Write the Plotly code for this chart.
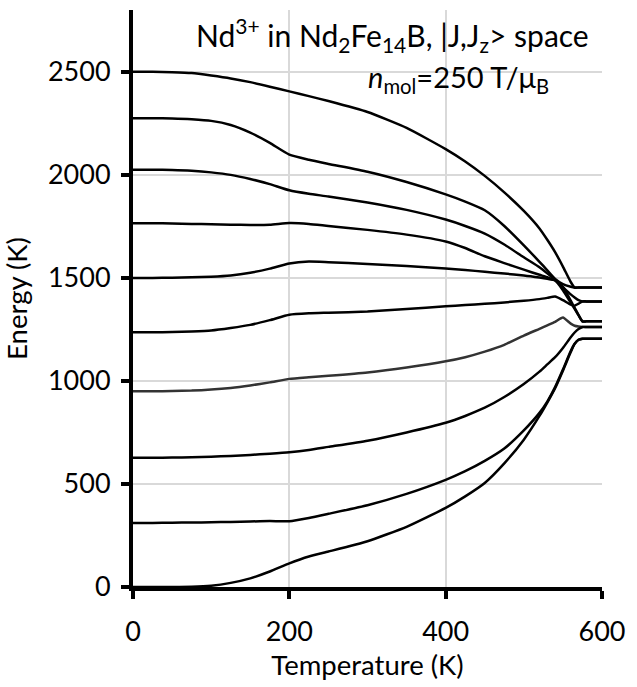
import plotly.graph_objects as go

temperature = [0, 25, 50, 75, 100, 125, 150, 175, 200, 225, 250, 300, 350, 400, 425,
               450, 475, 500, 520, 530, 540, 550, 560, 565, 570, 575, 580, 600]

level_1 = [2500, 2500, 2498, 2494, 2482, 2468, 2450, 2428, 2405, 2382, 2358, 2305, 2228, 2125, 2065,
           1995, 1915, 1825, 1740, 1685, 1625, 1555, 1480, 1453, 1453, 1453, 1453, 1453]
level_2 = [2275, 2275, 2274, 2270, 2262, 2242, 2205, 2155, 2098, 2073, 2053, 2015, 1965, 1905, 1870,
           1828, 1752, 1658, 1578, 1537, 1495, 1470, 1457, 1453, 1453, 1453, 1453, 1453]
level_3 = [2025, 2025, 2024, 2020, 2012, 2000, 1980, 1955, 1925, 1908, 1895, 1866, 1830, 1783, 1752,
           1715, 1662, 1600, 1552, 1522, 1490, 1455, 1420, 1405, 1392, 1386, 1386, 1386]
level_4 = [1765, 1765, 1764, 1762, 1760, 1758, 1757, 1758, 1766, 1762, 1752, 1733, 1710, 1677, 1645,
           1605, 1572, 1540, 1515, 1503, 1488, 1440, 1380, 1350, 1318, 1289, 1289, 1289]
level_5 = [1500, 1500, 1501, 1503, 1506, 1512, 1525, 1545, 1570, 1579, 1576, 1568, 1558, 1545, 1538,
           1530, 1521, 1512, 1502, 1496, 1488, 1455, 1390, 1355, 1320, 1289, 1289, 1289]
level_6 = [1236, 1236, 1237, 1240, 1245, 1257, 1272, 1295, 1321, 1328, 1331, 1337, 1349, 1362, 1368,
           1374, 1381, 1389, 1397, 1403, 1410, 1392, 1370, 1365, 1375, 1386, 1386, 1386]
level_7 = [950, 950, 951, 953, 958, 966, 978, 993, 1010, 1018, 1025, 1041, 1065, 1095, 1115,
           1142, 1175, 1220, 1253, 1270, 1287, 1308, 1278, 1268, 1264, 1262, 1262, 1262]
level_8 = [627, 627, 628, 630, 632, 636, 641, 647, 654, 665, 680, 710, 750, 797, 830,
           870, 922, 985, 1045, 1080, 1115, 1160, 1212, 1235, 1252, 1262, 1262, 1262]
level_9 = [311, 311, 312, 313, 314, 316, 318, 320, 319, 335, 355, 397, 452, 520, 562,
           612, 672, 760, 845, 900, 970, 1055, 1145, 1180, 1200, 1205, 1205, 1205]
level_10 = [0, 0, 0, 1, 6, 20, 42, 75, 115, 148, 172, 222, 292, 384, 440,
            505, 600, 715, 830, 895, 965, 1050, 1140, 1180, 1200, 1205, 1205, 1205]

levels = [level_1, level_2, level_3, level_4, level_5,
          level_6, level_7, level_8, level_9, level_10]
line_colors = ["#000000"] * 6 + ["#333333"] + ["#000000"] * 3

x_ticks = [0, 200, 400, 600]
y_ticks = [0, 500, 1000, 1500, 2000, 2500]

FONT = "Lato"

fig = go.Figure()
for energies, color in zip(levels, line_colors):
    fig.add_trace(go.Scatter(x=temperature, y=energies, mode="lines",
                             line=dict(color=color, width=2.5, shape="spline", smoothing=0.5),
                             showlegend=False, hoverinfo="skip"))

axis_common = dict(
    showline=True, linecolor="black", linewidth=4,
    ticks="outside", ticklen=8, tickwidth=4, tickcolor="black",
    showgrid=True, gridcolor="#d9d9d9", gridwidth=1.5,
    zeroline=False,
    tickfont=dict(family=FONT, size=27, color="black"),
)

fig.update_xaxes(range=[0, 600], tickvals=x_ticks,
                 title=dict(text="Temperature (K)", font=dict(family=FONT, size=27.5, color="black"),
                            standoff=10),
                 ticklabelstandoff=10, **axis_common)
fig.update_yaxes(range=[0, 2800], tickvals=y_ticks,
                 title=dict(text="Energy (K)", font=dict(family=FONT, size=27.5, color="black"),
                            standoff=14),
                 ticklabelstandoff=5, **axis_common)

fig.add_annotation(x=0.554, y=0.957, xref="paper", yref="paper", xanchor="center", yanchor="middle",
                   text="Nd<sup>3+</sup> in Nd<sub>2</sub>Fe<sub>14</sub>B, |J,J<sub>z</sub>&gt; space",
                   showarrow=False, font=dict(family=FONT, size=30, color="black"))
fig.add_annotation(x=0.695, y=0.882, xref="paper", yref="paper", xanchor="center", yanchor="middle",
                   text="<i>n</i><sub>mol</sub>=250 T/μ<sub>B</sub>",
                   showarrow=False, font=dict(family=FONT, size=29, color="black"))

fig.update_layout(
    width=637, height=687,
    margin=dict(l=133, r=35, t=10, b=100),
    paper_bgcolor="white", plot_bgcolor="white",
)

fig.write_html("out.html")
